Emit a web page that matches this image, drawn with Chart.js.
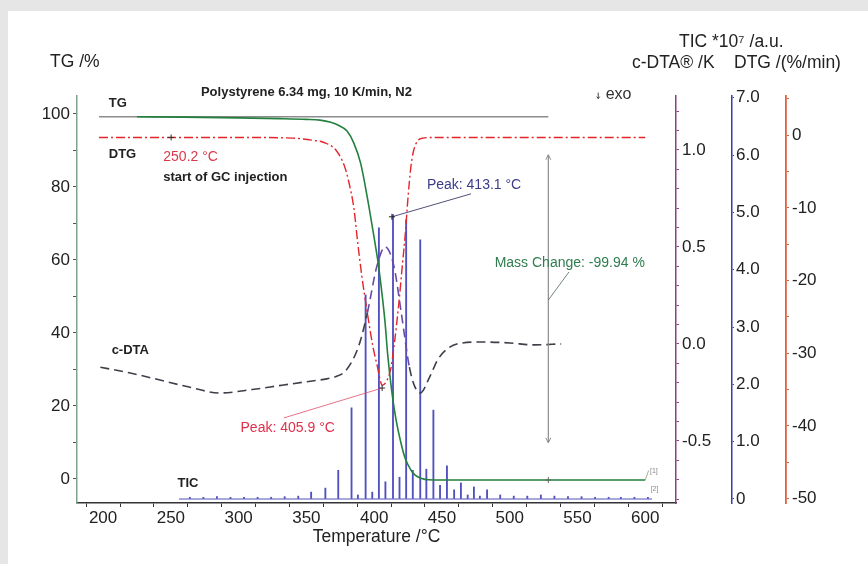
<!DOCTYPE html>
<html>
<head>
<meta charset="utf-8">
<script src="https://cdn.jsdelivr.net/npm/chart.js@4.4.1/dist/chart.umd.min.js"></script>
<style>
  html, body { margin: 0; padding: 0; background: #e6e6e6; }
  #wrap { position: absolute; left: 0; top: 0; width: 868px; height: 564px; }
</style>
</head>
<body>
<div id="wrap"><canvas id="chart" width="868" height="564"></canvas></div>
<script>
// ---- data ----
const tgTemps  = [225, 260, 300, 330, 350, 360, 368, 374, 380, 385, 390, 395, 400, 403, 406, 408, 410, 413, 416, 420, 423, 427, 430, 435, 440, 450, 500, 550, 600];
const tgValues = [99.2, 99.1, 98.9, 98.7, 98.5, 98.3, 97.7, 96.8, 95.3, 92, 86.5, 77, 66, 59, 50, 43, 34, 24, 16.5, 9.5, 5.5, 2.5, 1.1, 0.1, -0.25, -0.3, -0.3, -0.3, -0.3];

const dtgTemps  = [197, 300, 340, 355, 363, 372, 378, 381, 385, 388, 391, 395, 399, 402, 406, 410, 412.5, 415, 418, 421, 423, 425, 427, 429, 432, 436, 445, 600];
const dtgValues = [-0.3, -0.3, -0.4, -0.7, -1.0, -2.1, -4.2, -6.2, -10, -15, -19.5, -24.5, -29, -31.5, -34.4, -33.5, -31.9, -28.5, -23.5, -17.5, -13.5, -8.5, -4.5, -2.2, -0.8, -0.4, -0.3, -0.3];

const cdtaTemps  = [198, 220, 242, 265, 286, 310, 330, 349, 365, 372, 378, 383, 387, 390, 395, 402, 408, 414.6, 420, 426, 430, 434, 441, 447, 455, 465, 480, 500, 518, 538];
const cdtaValues = [-0.12, -0.15, -0.186, -0.225, -0.253, -0.235, -0.215, -0.196, -0.18, -0.168, -0.145, -0.098, -0.04, 0.02, 0.16, 0.40, 0.50, 0.40, 0.16, -0.12, -0.22, -0.253, -0.17, -0.08, -0.02, 0.005, 0.01, 0.005, -0.005, 0.0];

const ticTemps  = [264, 274, 284, 294, 304, 314, 324, 334, 344, 353.5, 364, 373.5, 383.3, 388, 393.7, 398.6, 403.5, 408.3, 413.9, 418.7, 423.6, 428.5, 434, 438.5, 443.7, 448.6, 453.7, 459, 464, 469, 473.6, 478, 483.3, 493, 503, 513, 523, 533, 543, 553, 563, 573, 582, 592, 602];
const ticValues = [0.03, 0.03, 0.04, 0.03, 0.03, 0.03, 0.03, 0.04, 0.05, 0.12, 0.19, 0.5, 1.59, 0.07, 3.56, 0.12, 4.73, 0.3, 4.96, 0.38, 4.87, 0.5, 4.52, 0.52, 1.55, 0.24, 0.58, 0.16, 0.28, 0.07, 0.21, 0.05, 0.16, 0.07, 0.05, 0.05, 0.07, 0.05, 0.04, 0.04, 0.03, 0.03, 0.03, 0.03, 0.03];
const ticBaseTemps = [256, 605];

// tick positions and which ones get labels
const xTicks = [200, 225, 250, 275, 300, 325, 350, 375, 400, 425, 450, 475, 500, 525, 550, 575, 600];
const xLabels = [200, 250, 300, 350, 400, 450, 500, 550, 600];
const tgTicks = [0, 10, 20, 30, 40, 50, 60, 70, 80, 90, 100];
const tgLabels = [0, 20, 40, 60, 80, 100];
const cdtaTicks = [-0.8, -0.7, -0.6, -0.5, -0.4, -0.3, -0.2, -0.1, 0, 0.1, 0.2, 0.3, 0.4, 0.5, 0.6, 0.7, 0.8, 0.9, 1.0, 1.1, 1.2];
const cdtaLabels = [-0.5, 0, 0.5, 1.0];
const ticTicks = [0, 1, 2, 3, 4, 5, 6, 7];
const dtgTicks = [-50, -45, -40, -35, -30, -25, -20, -15, -10, -5, 0, 5];
const dtgLabels = [-50, -40, -30, -20, -10, 0];

// annotation points (temperature / value)
const gcStartT = 250.2;
const dtgPeakT = 405.9;
const ticPeakT = 413.1;
const massChangeT = 528.5;
const massTop = 99.2;
const massArrowTop = 88.8;
const massArrowBottom = 9.9;

const FONT = '"Liberation Sans", Arial, sans-serif';
const pts = (xs, ys) => xs.map((x, i) => ({ x: x, y: ys[i] }));
const near = (list, v) => list.some(l => Math.abs(l - v) < 1e-6);

function text(c, s, x, y, font, color, align) {
    c.font = font;
    c.fillStyle = color;
    c.textAlign = align || 'left';
    c.textBaseline = 'middle';
    c.fillText(s, x, y);
}
function line(c, x1, y1, x2, y2, color, w) {
    c.beginPath();
    c.moveTo(x1, y1);
    c.lineTo(x2, y2);
    c.strokeStyle = color;
    c.lineWidth = w || 1;
    c.stroke();
}

const notes = {
    id: 'notes',
    beforeDraw(chart) {
        const c = chart.ctx;
        c.save();
        c.fillStyle = '#e6e6e6';
        c.fillRect(0, 0, chart.width, chart.height);
        c.fillStyle = '#ffffff';
        c.fillRect(8, 11, chart.width - 8, chart.height - 11);
        c.restore();
    },
    beforeDatasetsDraw(chart) {
        const c = chart.ctx, X = chart.scales.x, Y = chart.scales.y;
        c.save();
        // mass change reference line
        line(c, X.getPixelForValue(197), Y.getPixelForValue(massTop), X.getPixelForValue(massChangeT), Y.getPixelForValue(massTop), '#8c8c8c', 1.6);
        c.restore();
    },
    afterDatasetsDraw(chart) {
        const c = chart.ctx, X = chart.scales.x, Y = chart.scales.y, D = chart.scales.dtg;
        const px = v => X.getPixelForValue(v), py = v => Y.getPixelForValue(v);
        c.save();

        // mass change double arrow
        const mx = px(massChangeT);
        line(c, mx, py(massArrowTop), mx, py(massArrowBottom), '#8c8c8c', 1.2);
        line(c, mx - 2.5, py(massArrowTop) + 5, mx, py(massArrowTop), '#8c8c8c', 1);
        line(c, mx + 2.5, py(massArrowTop) + 5, mx, py(massArrowTop), '#8c8c8c', 1);
        line(c, mx - 2.5, py(massArrowBottom) - 5, mx, py(massArrowBottom), '#8c8c8c', 1);
        line(c, mx + 2.5, py(massArrowBottom) - 5, mx, py(massArrowBottom), '#8c8c8c', 1);
        line(c, mx - 3, py(-0.3), mx + 3, py(-0.3), '#666', 1);
        line(c, mx, py(-0.3) - 3, mx, py(-0.3) + 3, '#666', 1);
        line(c, mx, py(49), px(543.75), py(56.7), '#4d6a55', 0.8);

        // start of GC injection marker on DTG line
        const gx = px(gcStartT), gy = D.getPixelForValue(-0.3);
        line(c, gx - 3, gy, gx + 3, gy, '#333', 1);
        line(c, gx, gy - 3, gx, gy + 3, '#333', 1);

        // peak leaders
        line(c, px(333.3), py(16.7), px(dtgPeakT), py(24.9), '#e0506a', 0.8);
        line(c, px(dtgPeakT) - 3, py(24.9), px(dtgPeakT) + 3, py(24.9), '#333', 1);
        line(c, px(dtgPeakT), py(24.9) - 3, px(dtgPeakT), py(24.9) + 3, '#333', 1);
        line(c, px(ticPeakT), py(71.8), px(471.5), py(78.1), '#3c3c6a', 0.9);
        line(c, px(ticPeakT) - 3, py(71.8), px(ticPeakT) + 3, py(71.8), '#222', 1);
        line(c, px(ticPeakT), py(71.8) - 3, px(ticPeakT), py(71.8) + 3, '#222', 1);

        // curve end tags
        line(c, px(600), py(-0.3), px(602.5), py(2.3), '#8c9c6a', 0.8);
        text(c, '[1]', px(603.5), py(2.2), '7px ' + FONT, '#888', 'left');
        text(c, '[2]', px(604), py(-2.8), '7px ' + FONT, '#888', 'left');

        // labels inside plot
        const b13 = 'bold 13px ' + FONT, r14 = '14px ' + FONT;
        text(c, 'TG', px(204.2), py(103.0), b13, '#222');
        text(c, 'Polystyrene 6.34 mg, 10 K/min, N2', px(272.2), py(106.0), b13, '#222');
        text(c, 'DTG', px(204.2), py(88.8), b13, '#222');
        text(c, '250.2 °C', px(244.4), py(88.2), r14, '#d93a4a');
        text(c, 'start of GC injection', px(244.4), py(82.7), b13, '#222');
        text(c, 'c-DTA', px(206.3), py(35.3), b13, '#222');
        text(c, 'TIC', px(254.9), py(-1.1), b13, '#222');
        text(c, 'Peak: 405.9 °C', px(301.4), py(14.0), r14, '#e0304a');
        text(c, 'Peak: 413.1 °C', px(438.9), py(80.5), r14, '#3b3b8a');
        text(c, 'Mass Change: -99.94 %', px(488.9), py(59.2), r14, '#2f7d4e');

        // exo marker
        const ex = px(565.3), ey = py(105.0);
        line(c, ex, ey - 3, ex, ey + 3, '#444', 1);
        line(c, ex - 1.5, ey + 1, ex, ey + 3, '#444', 1);
        line(c, ex + 1.5, ey + 1, ex, ey + 3, '#444', 1);
        text(c, 'exo', px(570.8), py(105.2), '16px ' + FONT, '#333');
        c.restore();
    },
    afterDraw(chart) {
        const c = chart.ctx, a = chart.chartArea;
        const f = '17.5px ' + FONT;
        c.save();
        text(c, 'TG /%', 50, 62, f, '#222');
        text(c, 'TIC *10⁷ /a.u.', 679, 42, f, '#222');
        text(c, 'c-DTA® /K', 632, 63, f, '#222');
        text(c, 'DTG /(%/min)', 734, 63, f, '#222');
        text(c, 'Temperature /°C', (a.left + a.right) / 2, 537, f, '#222', 'center');
        c.restore();
    }
};

function fixTicks(list) {
    return axis => { axis.ticks = list.map(v => ({ value: v })); };
}

const tickFont = { family: FONT, size: 17 };

const chart = new Chart(document.getElementById('chart'), {
    type: 'line',
    data: {
        datasets: [{
            label: 'TG',
            data: pts(tgTemps, tgValues),
            yAxisID: 'y',
            borderColor: '#23803f',
            borderWidth: 1.6,
            pointRadius: 0,
            cubicInterpolationMode: 'monotone',
            order: 1
        }, {
            label: 'DTG',
            data: pts(dtgTemps, dtgValues),
            yAxisID: 'dtg',
            borderColor: '#e3262b',
            borderWidth: 1.4,
            borderDash: [9, 3, 2, 3],
            pointRadius: 0,
            cubicInterpolationMode: 'monotone',
            order: 2
        }, {
            label: 'c-DTA',
            data: pts(cdtaTemps, cdtaValues),
            yAxisID: 'cdta',
            borderColor: '#3f3f4a',
            borderWidth: 1.6,
            borderDash: [9, 5],
            pointRadius: 0,
            cubicInterpolationMode: 'monotone',
            segment: {
                borderColor: ctx => (ctx.p0.parsed.x >= 392 && ctx.p1.parsed.x <= 427) ? '#6a4aa8' : '#3f3f4a'
            },
            order: 3
        }, {
            label: 'TIC base',
            data: pts(ticBaseTemps, [0, 0]),
            yAxisID: 'tic',
            borderColor: '#5252b8',
            borderWidth: 1.1,
            pointRadius: 0,
            order: 5
        }, {
            type: 'bar',
            label: 'TIC',
            data: pts(ticTemps, ticValues),
            yAxisID: 'tic',
            backgroundColor: '#5050c0',
            barThickness: 1.2,
            order: 6
        }]
    },
    options: {
        responsive: false,
        animation: false,
        layout: { padding: { left: 0, right: 22, top: 96, bottom: 0 } },
        plugins: { legend: { display: false }, tooltip: { enabled: false } },
        scales: {
            x: {
                type: 'linear', position: 'bottom', min: 193.75, max: 609.7,
                afterBuildTicks: fixTicks(xTicks),
                afterFit: s => { s.height = 61; },
                ticks: { font: tickFont, color: '#222', padding: 1, maxRotation: 0, autoSkip: false,
                         callback: v => near(xLabels, v) ? String(v) : '' },
                grid: { drawOnChartArea: false, tickLength: 4, color: '#333' },
                border: { color: '#333', width: 1.5 }
            },
            y: {
                type: 'linear', position: 'left', min: -6.6, max: 104.9,
                afterBuildTicks: fixTicks(tgTicks),
                afterFit: s => { s.width = 77; },
                ticks: { font: tickFont, color: '#222', padding: 3, autoSkip: false,
                         callback: v => near(tgLabels, v) ? String(v) : '' },
                grid: { drawOnChartArea: false, tickLength: 4, color: '#555' },
                border: { color: '#7fa386', width: 1.5 }
            },
            cdta: {
                type: 'linear', position: 'right', min: -0.82, max: 1.278,
                afterBuildTicks: fixTicks(cdtaTicks),
                afterFit: s => { s.width = 56; },
                ticks: { font: tickFont, color: '#222', padding: 3, autoSkip: false,
                         callback: v => near(cdtaLabels, v) ? v.toFixed(1) : '' },
                grid: { drawOnChartArea: false, tickLength: 3, color: '#8a3f82' },
                border: { color: '#8a3f82', width: 1.5 }
            },
            tic: {
                type: 'linear', position: 'right', min: -0.07, max: 7.03,
                afterBuildTicks: fixTicks(ticTicks),
                afterFit: s => { s.width = 54; },
                ticks: { font: tickFont, color: '#222', padding: 2, autoSkip: false,
                         callback: v => v === 0 ? '0' : v.toFixed(1) },
                grid: { drawOnChartArea: false, tickLength: 2, color: '#3b3bab' },
                border: { color: '#3b3bab', width: 1.5 }
            },
            dtg: {
                type: 'linear', position: 'right', min: -50.6, max: 5.4,
                afterBuildTicks: fixTicks(dtgTicks),
                afterFit: s => { s.width = 60; },
                ticks: { font: tickFont, color: '#222', padding: 3, autoSkip: false,
                         callback: v => near(dtgLabels, v) ? String(v) : '' },
                grid: { drawOnChartArea: false, tickLength: 3, color: '#e2603f' },
                border: { color: '#e2603f', width: 1.8 }
            }
        }
    },
    plugins: [notes]
});
</script>
</body>
</html>
